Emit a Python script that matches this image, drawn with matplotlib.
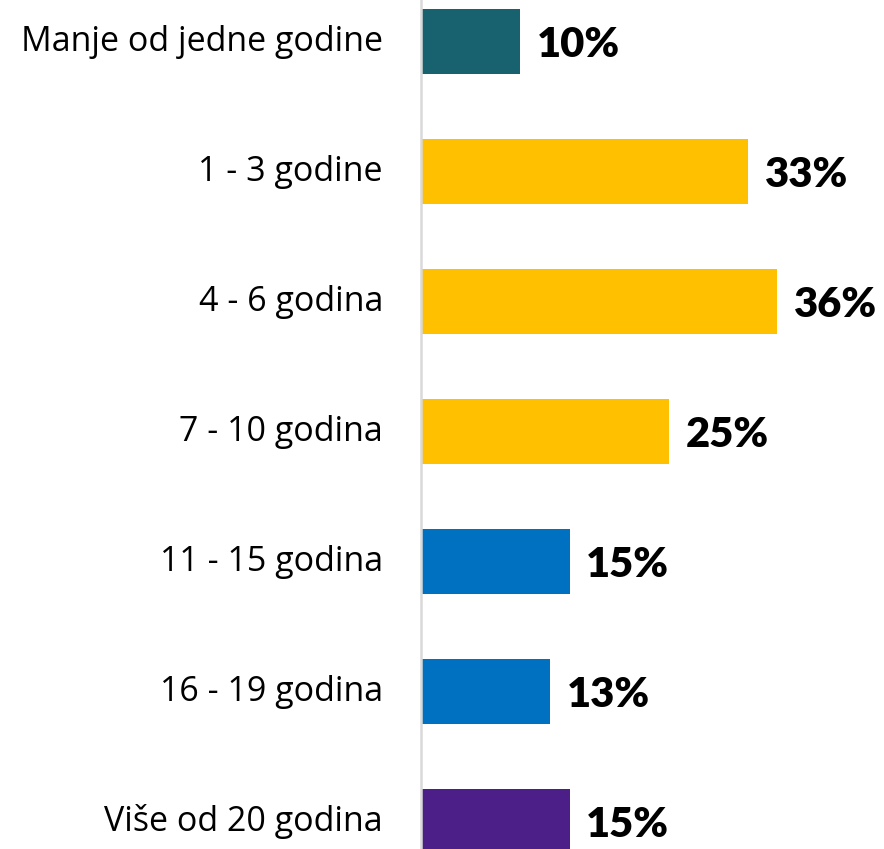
import matplotlib.pyplot as plt

# -------------------------------------------------
# Data
# -------------------------------------------------
categories = ['Manje od jedne godine', '1 - 3 godine', '4 - 6 godina',
              '7 - 10 godina', '11 - 15 godina', '16 - 19 godina',
              'Više od 20 godina']
values = [10, 33, 36, 25, 15, 13, 15]
colors = ['#17626E', '#FFC000', '#FFC000', '#FFC000',
          '#0070C0', '#0070C0', '#4C1F88']

# -------------------------------------------------
# Plot
# -------------------------------------------------
fig = plt.figure(figsize=(8.84, 8.49), dpi=100)
ax = fig.add_axes([421 / 884, 0, 1 - 421 / 884, 1])

y = list(range(len(categories)))
ax.barh(y, values, height=0.5, color=colors)

ax.set_xlim(0, (884 - 421) / 9.9)
ax.set_ylim((849 - 42) / 130, -42 / 130)

for yi, v in zip(y, values):
    ax.text(v + 1.7, yi + 0.02, f'{v}%', va='center', ha='left',
            fontsize=30, fontweight='heavy', family='Lato', color='black')

for yi, c in zip(y, categories):
    ax.text(-3.85, yi, c, va='center', ha='right',
            fontsize=24.5, fontweight='normal', family='Open Sans',
            color='black')

ax.set_xticks([])
ax.set_yticks([])
for s in ['top', 'right', 'bottom']:
    ax.spines[s].set_visible(False)
ax.spines['left'].set_color('#d9d9d9')
ax.spines['left'].set_linewidth(1.8)

fig.savefig('out.png', dpi=100)
